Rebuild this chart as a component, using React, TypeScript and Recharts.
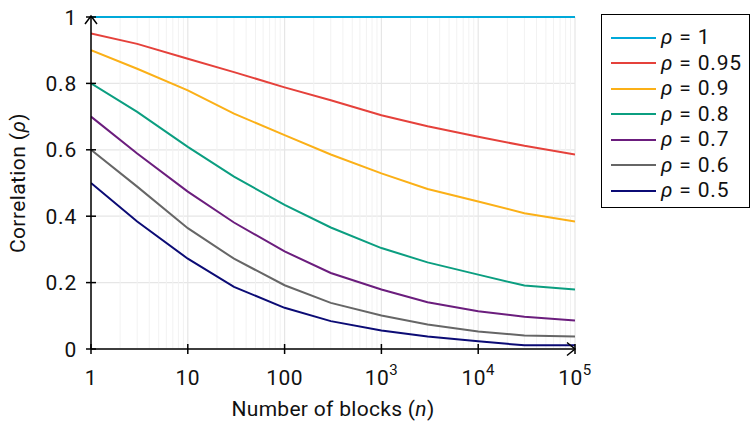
import { LineChart, Line, XAxis, YAxis, CartesianGrid, ReferenceLine, ReferenceDot } from 'recharts'

const blocks = [1, 3, 10, 30, 100, 300, 1000, 3000, 10000, 30000, 100000]

const rho100 = [1, 1, 1, 1, 1, 1, 1, 1, 1, 1, 1]
const rho095 = [0.95, 0.919, 0.874, 0.834, 0.788, 0.749, 0.704, 0.671, 0.639, 0.612, 0.586]
const rho090 = [0.9, 0.844, 0.779, 0.709, 0.644, 0.586, 0.529, 0.482, 0.444, 0.409, 0.384]
const rho080 = [0.8, 0.714, 0.609, 0.519, 0.434, 0.366, 0.304, 0.261, 0.224, 0.191, 0.179]
const rho070 = [0.7, 0.589, 0.474, 0.381, 0.294, 0.229, 0.179, 0.141, 0.114, 0.097, 0.086]
const rho060 = [0.6, 0.489, 0.364, 0.272, 0.192, 0.139, 0.101, 0.074, 0.053, 0.041, 0.038]
const rho050 = [0.5, 0.384, 0.272, 0.187, 0.124, 0.084, 0.056, 0.038, 0.023, 0.011, 0.011]

const seriesLabels = ['1', '0.95', '0.9', '0.8', '0.7', '0.6', '0.5']
const seriesValues = [rho100, rho095, rho090, rho080, rho070, rho060, rho050]
const seriesColors = ['#00a9d9', '#e5413b', '#fbb017', '#0b9e80', '#6b1d7d', '#666666', '#0b0b75']

const xTicks = [1, 10, 100, 1000, 10000, 100000]
const xTickLabels: [string, string][] = [['1', ''], ['10', ''], ['100', ''], ['10', '3'], ['10', '4'], ['10', '5']]
const yTicks = [0, 0.2, 0.4, 0.6, 0.8, 1]
const yTickLabels = ['0', '0.2', '0.4', '0.6', '0.8', '1']

const FONT = 'Roboto, sans-serif'

const data = blocks.map((n, i) => {
  const row: Record<string, number> = { n }
  seriesValues.forEach((vals, s) => { row['s' + s] = vals[i] })
  return row
})

// minor log grid: 2..9 in each decade
const minorX: number[] = []
for (let d = 1; d < 100000; d *= 10) {
  for (let k = 2; k <= 9; k++) minorX.push(d * k)
}

function XTick(props: any) {
  const { x, y, payload } = props
  const idx = xTicks.indexOf(payload.value)
  const [base, sup] = xTickLabels[idx] ?? [String(payload.value), '']
  return (
    <g>
      <line x1={x} x2={x} y1={y - 5} y2={y + 5} stroke="#000" strokeWidth={1.5} />
      <text x={x} y={y + 36} textAnchor="middle" fontSize={21} letterSpacing={0.5} fontFamily={FONT} fill="#111">
        {base}
        {sup && <tspan dy={-10} fontSize={15}>{sup}</tspan>}
      </text>
    </g>
  )
}

function YTick(props: any) {
  const { x, y, payload } = props
  const idx = yTicks.indexOf(payload.value)
  return (
    <g>
      <line x1={x - 5} x2={x + 5} y1={y} y2={y} stroke="#000" strokeWidth={1.5} />
      <text x={x - 14} y={y + 7.5} textAnchor="end" fontSize={21} letterSpacing={0.8} fontFamily={FONT} fill="#111">
        {yTickLabels[idx]}
      </text>
    </g>
  )
}

function YTitle(props: any) {
  const vb = props.viewBox || {}
  const cx = 25
  const cy = (vb.y ?? 17) + (vb.height ?? 332) / 2
  return (
    <text x={cx} y={cy} textAnchor="middle" transform={`rotate(-90 ${cx} ${cy})`} fontSize={21} letterSpacing={0.4} fontFamily={FONT} fill="#111">
      Correlation (<tspan fontStyle="italic">ρ</tspan>)
    </text>
  )
}

function XTitle(props: any) {
  const vb = props.viewBox || {}
  const cx = (vb.x ?? 91) + (vb.width ?? 484) / 2
  return (
    <text x={cx} y={416} textAnchor="middle" fontSize={21} letterSpacing={0.3} fontFamily={FONT} fill="#111">
      Number of blocks (<tspan fontStyle="italic">n</tspan>)
    </text>
  )
}

const ArrowRight = (p: any) => (
  <path d={`M ${p.cx - 8} ${p.cy - 6.5} L ${p.cx} ${p.cy} L ${p.cx - 8} ${p.cy + 6.5}`} fill="none" stroke="#000" strokeWidth={1.5} />
)
const ArrowUp = (p: any) => (
  <path d={`M ${p.cx - 6} ${p.cy + 7} L ${p.cx} ${p.cy - 1} L ${p.cx + 6} ${p.cy + 7}`} fill="none" stroke="#000" strokeWidth={1.5} />
)

export default function App() {
  return (
    <div style={{ position: 'absolute', left: 0, top: 0, width: 751, height: 422, fontFamily: FONT, background: '#fff' }}>
      <LineChart width={751} height={422} data={data} margin={{ top: 17, right: 176, bottom: 0, left: 0 }}>
        {minorX.map(v => (
          <ReferenceLine key={v} x={v} stroke="#f2f2f2" strokeWidth={1} />
        ))}
        <CartesianGrid stroke="#e6e6e6" strokeWidth={1.2} />
        <XAxis
          dataKey="n"
          type="number"
          scale="log"
          domain={[1, 100000]}
          ticks={xTicks}
          allowDataOverflow
          height={73}
          tickSize={0}
          tickMargin={0}
          tickLine={false}
          axisLine={{ stroke: '#000', strokeWidth: 1.5 }}
          tick={XTick}
          interval={0}
          label={<XTitle />}
        />
        <YAxis
          type="number"
          domain={[0, 1]}
          ticks={yTicks}
          width={91}
          tickSize={0}
          tickMargin={0}
          tickLine={false}
          axisLine={{ stroke: '#000', strokeWidth: 1.5 }}
          tick={YTick}
          interval={0}
          label={<YTitle />}
        />
        {seriesValues.map((_, s) => (
          <Line
            key={s}
            dataKey={'s' + s}
            stroke={seriesColors[s]}
            strokeWidth={2}
            dot={false}
            type="linear"
            isAnimationActive={false}
          />
        ))}
        <ReferenceDot x={100000} y={0} ifOverflow="visible" shape={ArrowRight} />
        <ReferenceDot x={1} y={1} ifOverflow="visible" shape={ArrowUp} />
      </LineChart>
      <div
        style={{
          position: 'absolute', left: 601, top: 14, width: 149, height: 194,
          border: '1.5px solid #000', paddingTop: 10, boxSizing: 'border-box',
        }}
      >
        {seriesLabels.map((lab, s) => (
          <div key={s} style={{ display: 'flex', alignItems: 'center', height: 25.5 }}>
            <div style={{ marginLeft: 9, width: 45, height: 2, background: seriesColors[s] }} />
            <div style={{ marginLeft: 5, fontSize: 21, letterSpacing: 0.8, color: '#111', whiteSpace: 'nowrap', lineHeight: '25px' }}>
              <i>ρ</i><span style={{ margin: '0 6px' }}>=</span>{lab}
            </div>
          </div>
        ))}
      </div>
    </div>
  )
}
